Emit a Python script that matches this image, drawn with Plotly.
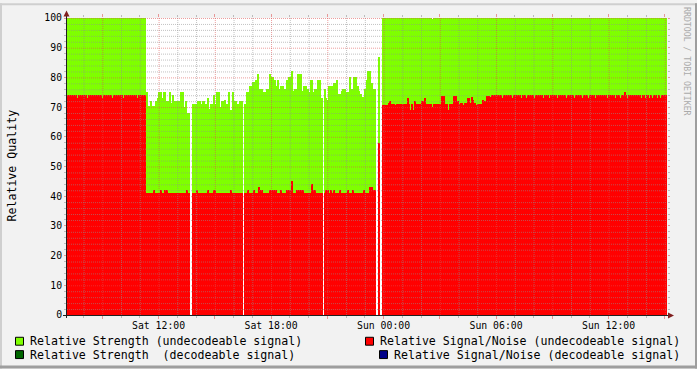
import plotly.graph_objects as go
import pandas as pd

# ---------------- data ----------------
START = "2010-01-09 07:05"   # a Saturday
STEP_MIN = 5
X_RANGE = ["2010-01-09 07:07", "2010-01-10 15:07"]

# Relative Strength (undecodeable signal), one value per 5 minutes (None = no data)
strength_undec = [
    100, 100, 100, 100, 100, 100, 100, 100, 100, 100,
    100, 100, 100, 100, 100, 100, 100, 100, 100, 100,
    100, 100, 100, 100, 100, 100, 100, 100, 100, 100,
    100, 100, 100, 100, 100, 100, 100, 100, 100, 100,
    100, 100, 100, 100, 100, 100, 100, 100, 100, 100,
    100, 75, 70.5, 70.5, 72, 70.5, 70.5, 72, 73, 75,
    75, 73, 75, 75, 72, 72, 75, 71.5, 74, 72,
    72, 72, 72, 75, 75, 70, 72, 68, 68, None,
    None, 71, 71, 71, 72, 72, 71, 72, 72, 71,
    73, 69.5, 71, 71, 74, 71, 75, 75, 70, 72,
    72, 72.5, 71, 71, 75, 69, 75, 72, 72, 71,
    71, 72, 72, None, 71, 75, 75, 77, 77, 78.5,
    78.5, 79, 81, 76, 76, 76, 75, 75, 76, 76,
    81, 80, 80, 79, 77, 79, 76, 77, 77, 76,
    76, 79, 80, 80, 82, 75.5, 76, 76, 81, 81,
    81, 75.5, 77, 77, 76, 75, 79, 79, 75, 76,
    76, 79, 79, 73, None, 76, 73, 72.5, 77, 77,
    77, 78, 78, 79, 74.5, 74.5, 75.5, 76, 76, 75,
    75, 80, 76, 76, 80, 80, 77, 75.5, 74.5, 73.5,
    73.5, 76, 79, 82, 82, 78, 76, 76, None, None,
    87, None, 100, 100, 100, 100, 100, 100, 100, 100,
    100, 100, 100, 100, 100, 100, 100, 100, 100, 100,
    100, 100, 100, 100, 100, 100, 100, 100, 100, 100,
    100, 100, 100, 100, 99.5, 100, 100, 100, 100, 100,
    100, 100, 100, 100, 100, 100, 100, 100, 100, 100,
    100, 100, 100, 100, 100, 100, 100, 100, 100, 100,
    100, 100, 100, 100, 100, 100, 100, 100, 100, 100,
    100, 100, 100, 100, 100, 100, 100, 100, 100, 100,
    100, 100, 100, 100, 100, 100, 100, 100, 100, 100,
    100, 100, 100, 100, 100, 100, 100, 100, 100, 100,
    100, 100, 100, 100, 100, 100, 100, 100, 100, 100,
    100, 100, 100, 100, 100, 100, 100, 100, 100, 100,
    100, 100, 100, 100, 100, 100, 100, 100, 100, 100,
    100, 100, 100, 100, 100, 100, 100, 100, 100, 100,
    100, 100, 100, 100, 100, 100, 100, 100, 100, 100,
    100, 100, 100, 100, 100, 100, 100, 100, 100, 100,
    100, 100, 100, 100, 100, 100, 100, 100, 100, 100,
    100, 100, 100, 100, 100, 100, 100, 100, 100, 100,
    100, 100, 100, 100, 100,
]

# Relative Signal/Noise (undecodeable signal)
snr_undec = [
    74, 74, 74, 74, 74, 74, 74, 73, 74, 74,
    74, 74, 74, 73, 74, 74, 74, 74, 74, 74,
    74, 74, 74, 73, 74, 74, 74, 74, 74, 73,
    74, 74, 74, 74, 74, 74, 73, 74, 74, 74,
    74, 74, 74, 74, 74, 73, 74, 74, 74, 74,
    74, 41, 41, 41, 41, 41, 42, 41, 41, 41,
    42, 41, 41, 42, 42, 41, 41, 41, 41, 41,
    41, 41, 41, 41, 41, 41, 41, 42, 41, None,
    None, 41, 41, 42, 41, 41, 41, 41, 41, 41,
    42, 41, 41, 41, 42, 42, 41, 41, 41, 41,
    41, 41, 41, 41, 41, 42, 41, 41, 41, 41,
    41, 41, 41, None, 41, 41, 42, 41, 41, 41,
    42, 41, 41, 43, 42, 42, 41, 41, 41, 41,
    42, 42, 42, 42, 42, 41, 41, 42, 41, 41,
    41, 42, 42, 42, 45, 41, 41, 42, 42, 42,
    42, 42, 41, 41, 41, 41, 41, 44, 42, 42,
    41, 41, 41, 41, None, 41, 42, 42, 41, 42,
    41, 42, 41, 41, 41, 42, 41, 41, 41, 41,
    42, 41, 41, 42, 41, 41, 41, 41, 41, 41,
    42, 41, 41, 41, 43, 43, 42, 42, None, None,
    58, None, 70.7, 70.7, 70.7, 70.7, 71.5, 72, 71, 71,
    70.7, 71, 71, 71, 71, 71, 71, 71, 73, 71,
    69, 71, 69, 72, 71, 71, 71, 72, 72, 73,
    71, 71, 71, 71, 70.2, 71, 71, 71, 71, 71,
    73.8, 73.8, 71, 71, 69, 71, 71, 71, 73.7, 73.7,
    72, 71, 71.3, 71.3, 70.7, 71.3, 71.3, 73, 71.3, 73.5,
    72.4, 71.3, 70.7, 71, 71, 71, 72.4, 72, 72, 73.8,
    73.8, 73.5, 74, 74, 74, 74, 74, 74, 74, 73,
    74, 74, 74, 74, 74, 73, 74, 74, 74, 74,
    74, 73, 74, 74, 73, 74, 74, 74, 74, 73,
    74, 74, 74, 74, 74, 73, 74, 74, 74, 73,
    74, 74, 74, 74, 73, 74, 74, 74, 74, 74,
    73, 74, 74, 74, 74, 73, 74, 74, 74, 74,
    73, 74, 74, 74, 73, 74, 74, 74, 73, 74,
    74, 74, 74, 74, 74, 74, 73, 74, 74, 74,
    74, 73, 74, 74, 73, 74, 74, 75, 74, 73,
    74, 74, 74, 74, 74, 74, 74, 74, 73, 74,
    73, 74, 74, 73, 74, 73, 74, 74, 73, 74,
    73, 74, 74, 74, 74,
]

legend_labels = [
    "Relative Strength (undecodeable signal)",
    "Relative Signal/Noise (undecodeable signal)",
    "Relative Strength  (decodeable signal)",
    "Relative Signal/Noise (decodeable signal)",
]
legend_colors = ["#7FFF00", "#FF0000", "#006600", "#000088"]
Y_TITLE = "Relative Quality"
WATERMARK = "RRDTOOL / TOBI OETIKER"

# ---------------- layout helpers ----------------
W, H = 697, 369
L, T, PW, PH = 67, 15, 600, 300
MONO = "DejaVu Sans Mono"
GRID_MINOR = "rgba(143,143,143,0.55)"
GRID_MAJOR = "rgba(222,79,79,0.55)"
ARROW = "#801F1F"
AXIS = "#1F1F1F"


def px(xp):
    return (xp - L) / PW


def py(yp):
    return (T + PH - yp) / PH


times = pd.date_range(START, periods=len(strength_undec), freq=f"{STEP_MIN}min")
step_ms = STEP_MIN * 60 * 1000

fig = go.Figure()
fig.add_trace(go.Bar(x=times, y=strength_undec, width=step_ms, offset=0,
                     marker=dict(color=legend_colors[0], line=dict(width=0)),
                     name=legend_labels[0], showlegend=False, hoverinfo="skip"))
fig.add_trace(go.Bar(x=times, y=snr_undec, width=step_ms, offset=0,
                     marker=dict(color=legend_colors[1], line=dict(width=0)),
                     name=legend_labels[1], showlegend=False, hoverinfo="skip"))

shapes = []
# grid (drawn above data, like rrdtool)
px_per_hour = PW / ((pd.Timestamp(X_RANGE[1]) - pd.Timestamp(X_RANGE[0])).total_seconds() / 3600)
half_px = pd.Timedelta(seconds=0.5 * 3600 / px_per_hour)
hour = pd.Timestamp(X_RANGE[0]).ceil("h")
while hour < pd.Timestamp(X_RANGE[1]):
    major = hour.hour % 3 == 0
    shapes.append(dict(type="line", xref="x", yref="paper",
                       x0=hour + half_px, x1=hour + half_px, y0=0, y1=1, layer="above",
                       line=dict(color=GRID_MAJOR if major else GRID_MINOR, width=1, dash="1px,1px")))
    hour += pd.Timedelta(hours=1)
for v in range(2, 101, 2):
    major = v % 10 == 0
    yv = v - 0.5 * 100 / PH
    shapes.append(dict(type="line", xref="paper", yref="y", x0=0, x1=1, y0=yv, y1=yv,
                       layer="above",
                       line=dict(color=GRID_MAJOR if major else GRID_MINOR, width=1, dash="1px,1px")))

# axes lines and arrows
shapes.append(dict(type="line", xref="paper", yref="paper", x0=px(63), x1=px(670),
                   y0=py(315.5), y1=py(315.5), line=dict(color=AXIS, width=1), layer="above"))
shapes.append(dict(type="line", xref="paper", yref="paper", x0=px(66.5), x1=px(66.5),
                   y0=py(318), y1=py(11), line=dict(color=AXIS, width=1), layer="above"))
shapes.append(dict(type="path", xref="paper", yref="paper",
                   path=f"M {px(66.5)} {py(7.5)} L {px(63.5)} {py(13.5)} L {px(69.5)} {py(13.5)} Z",
                   fillcolor=ARROW, line=dict(width=0), layer="above"))
shapes.append(dict(type="path", xref="paper", yref="paper",
                   path=f"M {px(674)} {py(315.5)} L {px(668)} {py(312.5)} L {px(668)} {py(318.5)} Z",
                   fillcolor=ARROW, line=dict(width=0), layer="above"))

# 3D frame
shapes.append(dict(type="rect", xref="paper", yref="paper", x0=px(0), x1=px(W), y0=py(0), y1=py(2),
                   fillcolor="#CFCFCF", line=dict(width=0), layer="below"))
shapes.append(dict(type="rect", xref="paper", yref="paper", x0=px(0), x1=px(2), y0=py(0), y1=py(H),
                   fillcolor="#CFCFCF", line=dict(width=0), layer="below"))
shapes.append(dict(type="rect", xref="paper", yref="paper", x0=px(0), x1=px(W), y0=py(H - 3), y1=py(H),
                   fillcolor="#9E9E9E", line=dict(width=0), layer="below"))
shapes.append(dict(type="rect", xref="paper", yref="paper", x0=px(W - 2), x1=px(W), y0=py(0), y1=py(H),
                   fillcolor="#9E9E9E", line=dict(width=0), layer="below"))

# legend
legend_pos = [(15.5, 341.5, 30), (365.5, 341.5, 380), (15.5, 355, 30), (379.5, 355, 394)]
annotations = []
for (sx, cy, tx), lab, col in zip(legend_pos, legend_labels, legend_colors):
    shapes.append(dict(type="rect", xref="paper", yref="paper",
                       x0=px(sx), x1=px(sx + 8), y0=py(cy - 4), y1=py(cy + 4),
                       fillcolor=col, line=dict(color="black", width=1), layer="above"))
    annotations.append(dict(xref="paper", yref="paper", x=px(tx - 2), y=py(cy),
                            xanchor="left", yanchor="middle", showarrow=False, text=lab,
                            font=dict(family=MONO, size=11.6, color="black")))

annotations.append(dict(xref="paper", yref="paper", x=px(12), y=py(164), textangle=-90,
                        xanchor="center", yanchor="middle", showarrow=False, text=Y_TITLE,
                        font=dict(family=MONO, size=11.6, color="black")))
annotations.append(dict(xref="paper", yref="paper", x=px(687.5), y=py(59), textangle=90,
                        xanchor="center", yanchor="middle", showarrow=False, text=WATERMARK,
                        font=dict(family=MONO, size=8.2, color="#AAAAAA")))

fig.update_layout(
    width=W, height=H,
    margin=dict(l=L, r=W - L - PW, t=T, b=H - T - PH, pad=0),
    paper_bgcolor="#F2F2F2", plot_bgcolor="#FFFFFF",
    barmode="overlay", bargap=0,
    shapes=shapes, annotations=annotations,
    showlegend=False,
    xaxis=dict(type="date", range=X_RANGE, showgrid=False, zeroline=False, showline=False,
               tickmode="linear", tick0="2010-01-09 00:00", dtick=3 * 3600 * 1000,
               ticklabelstep=2, tickformat="%a %H:%M", ticklabelstandoff=-2,
               ticks="outside", ticklen=3, tickcolor=GRID_MAJOR, mirror="ticks",
               minor=dict(dtick=3600 * 1000, ticks="outside", ticklen=2, tickcolor=GRID_MINOR),
               tickfont=dict(family=MONO, size=9.8, color="black")),
    yaxis=dict(range=[0, 100], showgrid=False, zeroline=False, showline=False,
               tickmode="linear", tick0=0, dtick=10,
               ticks="outside", ticklen=2, tickcolor=GRID_MAJOR, mirror="ticks",
               minor=dict(dtick=2, ticks="outside", ticklen=2, tickcolor=GRID_MINOR),
               tickfont=dict(family=MONO, size=9.8, color="black")),
)

fig.write_html("out.html")
